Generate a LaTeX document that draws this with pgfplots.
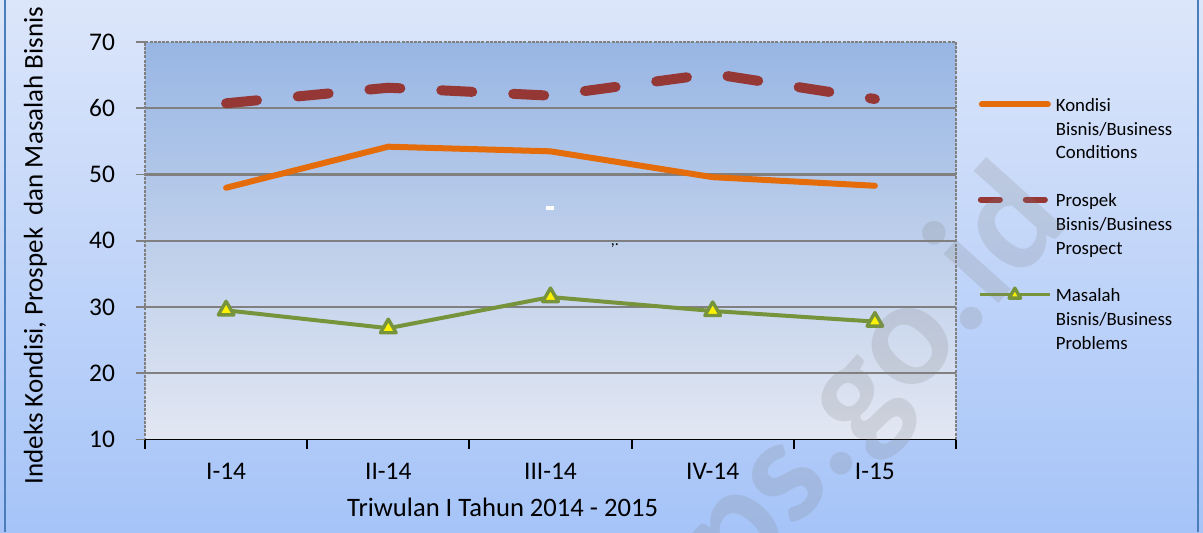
\documentclass[border=0pt]{standalone}
\usepackage{pgfplots}
\pgfplotsset{compat=1.18}
\usepackage{fontspec}
\setmainfont{Carlito}
\definecolor{korange}{RGB}{228,108,10}
\definecolor{pred}{RGB}{149,55,53}
\definecolor{mgreen}{RGB}{119,147,60}
\definecolor{bgtop}{RGB}{220,230,250}
\definecolor{bgbot}{RGB}{166,196,248}
\definecolor{patop}{RGB}{152,182,228}
\definecolor{pabot}{RGB}{226,231,242}
\definecolor{frameblue}{RGB}{74,126,187}
\definecolor{wmgray}{RGB}{128,128,128}
\newcommand\ls{\rule[-3.6pt]{0pt}{12pt}}
\begin{document}
\begin{tikzpicture}
\useasboundingbox (0,0) rectangle (601.5pt,266pt);
\clip (0,0) rectangle (601.5pt,266pt);
\shade[top color=bgtop, bottom color=bgbot] (0,0) rectangle (601.5pt,266pt);
\draw[frameblue, line width=1.2pt] (2.5pt,0) -- (2.5pt,266pt);
\draw[frameblue, line width=1.2pt] (599pt,0) -- (599pt,266pt);
\begin{axis}[
 at={(72.5pt,46.25pt)}, anchor=south west,
 scale only axis, width=405.5pt, height=198.75pt,
 xmin=-0.5, xmax=4.5, ymin=10, ymax=70,
 xtick={0,1,2,3,4}, xticklabels={I-14,II-14,III-14,IV-14,I-15},
 minor xtick={-0.5,0.5,1.5,2.5,3.5,4.5},
 ytick={20,30,...,60},
 extra y ticks={10,70},
 extra y tick style={grid=none},
 tick align=outside, major tick length=4.5pt, minor tick length=4.5pt,
 xtick pos=bottom, ytick pos=left,
 every major x tick/.append style={draw=none},
 every minor x tick/.append style={black, line width=1pt},
 every major y tick/.append style={gray, line width=0.8pt},
 ymajorgrids, grid style={draw={rgb,255:red,128;green,128;blue,128}, line width=1.1pt},
 axis line style={draw=none},
 axis background/.style={shade, top color=patop, bottom color=pabot, draw=gray, dash pattern=on 1.5pt off 0.6pt, line width=0.6pt},
 ticklabel style={font=\fontsize{12.7}{15}\selectfont, /pgf/number format/assume math mode=true},
 yticklabel style={xshift=-7pt},
 xticklabel style={yshift=-3.75pt},
 xlabel={Triwulan I Tahun 2014 - 2015},
 ylabel={Indeks Kondisi, Prospek~ dan Masalah Bisnis},
 xlabel style={font=\fontsize{13.3}{16}\selectfont, at={(axis description cs:0.441,-0.194)}, anchor=base},
 ylabel style={font=\fontsize{13.5}{16}\selectfont, at={(axis description cs:-0.135,0.488)}, anchor=center},
 legend style={at={(axis description cs:1.022,0.868)}, anchor=north west, draw=none, fill=none,
   inner sep=0pt, outer sep=0pt, row sep=2pt, font=\fontsize{9.4}{11}\selectfont,
   nodes={inner sep=0pt}, /tikz/every even column/.append style={column sep=2.5pt}},
 legend cell align=left,
]
\addplot[korange, line width=3pt, line cap=round, line join=round,
  legend image code/.code={\draw[korange, line width=3pt, line cap=round] (1.5pt,0pt) -- (34.5pt,0pt); \path (0pt,0pt) (36pt,0pt);}]
  coordinates {(0,48.0) (1,54.2) (2,53.5) (3,49.6) (4,48.3)};
\addlegendentry{\ls Kondisi}
\addlegendimage{empty legend}\addlegendentry{\ls Bisnis/Business}
\addlegendimage{empty legend}\addlegendentry{\ls Conditions}
\addlegendimage{empty legend}\addlegendentry{\ls}
\addplot[pred, line width=5pt, line cap=round, line join=round, dash pattern=on 15.5pt off 20.5pt,
  legend image code/.code={\draw[pred, line width=3pt, line cap=round] (1pt,0pt) -- (10.5pt,0pt) (23.5pt,0pt) -- (33pt,0pt); \path (0pt,0pt) (36pt,0pt);}]
  coordinates {(0,60.75) (1,63.1) (2,61.9) (3,65.2) (4,61.4)};
\addlegendentry{\ls Prospek}
\addlegendimage{empty legend}\addlegendentry{\ls Bisnis/Business}
\addlegendimage{empty legend}\addlegendentry{\ls Prospect}
\addlegendimage{empty legend}\addlegendentry{\ls}
\addplot[mgreen, line width=2pt, line join=round, mark=triangle*, mark size=4.5pt,
  mark options={solid, fill=yellow, draw=mgreen, line width=1.7pt, line join=round},
  legend image code/.code={\draw[mgreen, line width=1.6pt] (0.5pt,0pt) -- (35.5pt,0pt);
    \draw[mgreen, fill=yellow, line width=1.4pt, line join=round] plot[mark=triangle*, mark size=3.3pt] coordinates {(18pt,0pt)};
    \path (0pt,0pt) (36pt,0pt);}]
  coordinates {(0,29.5) (1,26.8) (2,31.5) (3,29.4) (4,27.8)};
\addlegendentry{\ls Masalah}
\addlegendimage{empty legend}\addlegendentry{\ls Bisnis/Business}
\addlegendimage{empty legend}\addlegendentry{\ls Problems}
\draw[black, line width=1pt] (rel axis cs:0,0) -- (rel axis cs:1,0);
\end{axis}
\fill[white] (273pt,161pt) rectangle (277pt,163pt);
\node[font=\fontsize{8}{8}\selectfont, inner sep=0pt] at (307.5pt,143pt) {,.};
\node[rotate=48, opacity=0.2, text=wmgray, font=\fontsize{76}{76}\selectfont\bfseries, inner sep=0pt] at (424.5pt,61pt) {bps.go.id};
\end{tikzpicture}
\end{document}
